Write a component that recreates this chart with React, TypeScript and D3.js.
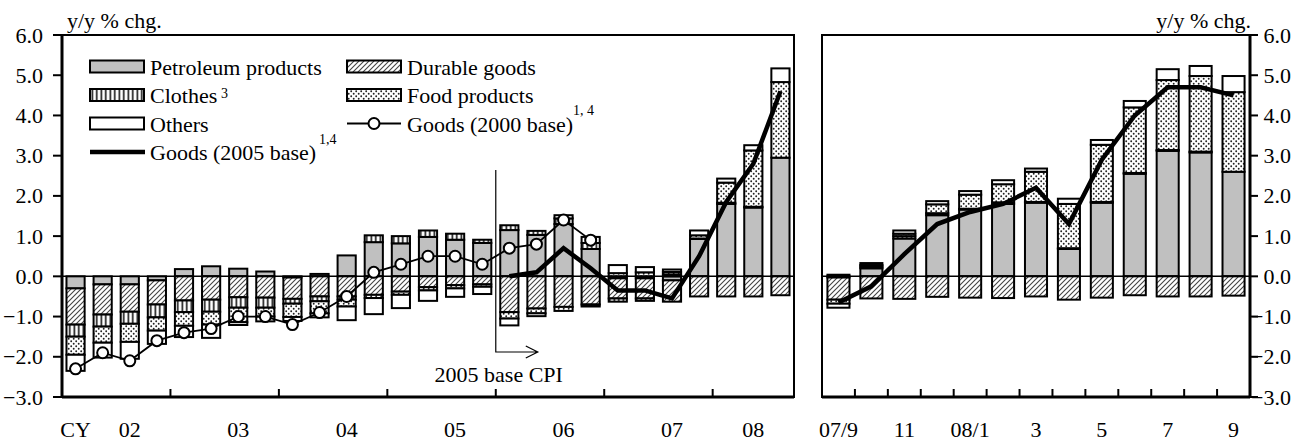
import * as d3 from "d3";
import { useEffect, useRef } from "react";

// quarterly, CY2002 Q1 .. 2008 Q3
const quarters = [
  "02Q1", "02Q2", "02Q3", "02Q4", "03Q1", "03Q2", "03Q3", "03Q4",
  "04Q1", "04Q2", "04Q3", "04Q4", "05Q1", "05Q2", "05Q3", "05Q4",
  "06Q1", "06Q2", "06Q3", "06Q4", "07Q1", "07Q2", "07Q3", "07Q4",
  "08Q1", "08Q2", "08Q3",
];
const qPetroleum = [-0.3, -0.2, -0.2, -0.1, 0.18, 0.25, 0.19, 0.12, -0.03, 0.06, 0.52, 0.85, 0.82, 0.98, 0.91, 0.83, 1.15, 1.03, 1.3, 0.68, -0.05, -0.05, -0.1, 0.93, 1.8, 1.71, 2.95];
const qDurable = [-0.9, -0.75, -0.68, -0.6, -0.6, -0.58, -0.52, -0.53, -0.53, -0.5, -0.5, -0.46, -0.38, -0.27, -0.22, -0.2, -0.89, -0.8, -0.76, -0.7, -0.5, -0.5, -0.53, -0.5, -0.5, -0.5, -0.47];
const qClothes = [-0.3, -0.3, -0.3, -0.32, -0.29, -0.3, -0.26, -0.25, -0.12, -0.12, -0.08, 0.17, 0.18, 0.16, 0.15, 0.08, 0.12, 0.1, 0.14, 0.15, -0.08, -0.06, 0.05, 0.01, 0.03, 0.02, 0.0];
const qFood = [-0.45, -0.4, -0.45, -0.33, -0.34, -0.32, -0.36, -0.22, -0.33, -0.3, -0.17, -0.08, -0.08, -0.08, -0.08, -0.06, -0.16, -0.12, -0.1, -0.05, 0.08, 0.1, 0.06, 0.08, 0.5, 1.4, 1.88];
const qOthers = [-0.4, -0.37, -0.42, -0.33, -0.28, -0.33, -0.07, -0.12, -0.1, -0.1, -0.34, -0.4, -0.33, -0.26, -0.21, -0.18, -0.17, -0.07, 0.08, 0.15, 0.2, 0.13, 0.06, 0.12, 0.1, 0.13, 0.34];
const qGoods2000 = [-2.3, -1.9, -2.1, -1.6, -1.4, -1.3, -1.0, -1.0, -1.2, -0.9, -0.5, 0.1, 0.3, 0.5, 0.5, 0.3, 0.7, 0.8, 1.4, 0.9, null, null, null, null, null, null, null];
const qGoods2005 = [null, null, null, null, null, null, null, null, null, null, null, null, null, null, null, null, 0.0, 0.1, 0.7, 0.2, -0.35, -0.35, -0.55, 0.5, 1.85, 2.8, 4.6];

// monthly, 2007/9 .. 2008/9
const months = ["07/9", "07/10", "07/11", "07/12", "08/1", "08/2", "08/3", "08/4", "08/5", "08/6", "08/7", "08/8", "08/9"];
const mPetroleum = [-0.03, 0.2, 0.94, 1.52, 1.66, 1.8, 1.83, 0.68, 1.83, 2.55, 3.12, 3.08, 2.6];
const mDurable = [-0.55, -0.55, -0.56, -0.51, -0.53, -0.54, -0.5, -0.58, -0.53, -0.47, -0.5, -0.5, -0.48];
const mClothes = [0.04, 0.04, 0.06, 0.05, 0.02, 0.04, 0.02, 0.02, 0.02, 0.02, 0.02, 0.02, 0.0];
const mFood = [-0.1, 0.04, 0.06, 0.22, 0.35, 0.45, 0.75, 1.1, 1.42, 1.63, 1.74, 1.88, 1.98];
const mOthers = [-0.1, 0.05, 0.08, 0.08, 0.09, 0.1, 0.08, 0.13, 0.12, 0.16, 0.27, 0.25, 0.4];
const mGoods2005 = [-0.65, -0.25, 0.55, 1.3, 1.6, 1.8, 2.2, 1.3, 2.9, 4.0, 4.7, 4.7, 4.5];

const yTicks = [-3, -2, -1, 0, 1, 2, 3, 4, 5, 6];
const leftLabels = ["CY", "02", "03", "04", "05", "06", "07", "08"];
const leftLabelAt = ["02Q1", "02Q3", "03Q3", "04Q3", "05Q3", "06Q3", "07Q3", "08Q2"];
const leftTicksAt = ["03Q1", "04Q1", "05Q1", "06Q1", "07Q1", "08Q1"];
const rightLabels = ["07/9", "11", "08/1", "3", "5", "7", "9"];
const rightLabelAt = ["07/9", "07/11", "08/1", "08/3", "08/5", "08/7", "08/9"];

const seriesKeys = ["petroleum", "durable", "clothes", "food", "others"];
const fills: Record<string, string> = {
  petroleum: "#c0c0c0",
  durable: "url(#hatch)",
  clothes: "url(#vlines)",
  food: "url(#dots)",
  others: "#ffffff",
};

const W = 1309;
const H = 441;
const FONT = "'Liberation Serif', 'Times New Roman', serif";
const FS = 22;

export default function App() {
  const ref = useRef<SVGSVGElement | null>(null);

  useEffect(() => {
    if (!ref.current) return;
    const svg = d3.select(ref.current);
    svg.selectAll("*").remove();

    const top = 35;
    const bottom = 397;
    const y = d3.scaleLinear().domain([-3, 6]).range([bottom, top]);

    // patterns
    const defs = svg.append("defs");
    const hatch = defs.append("pattern").attr("id", "hatch").attr("patternUnits", "userSpaceOnUse").attr("width", 5).attr("height", 5);
    hatch.append("rect").attr("width", 5).attr("height", 5).attr("fill", "#fff");
    hatch.append("path").attr("d", "M0,5 L5,0 M-1,1 L1,-1 M4,6 L6,4").attr("stroke", "#444").attr("stroke-width", 1.1);
    const vl = defs.append("pattern").attr("id", "vlines").attr("patternUnits", "userSpaceOnUse").attr("width", 4.5).attr("height", 4);
    vl.append("rect").attr("width", 4.5).attr("height", 4).attr("fill", "#fff");
    vl.append("rect").attr("x", 1.5).attr("width", 1.6).attr("height", 4).attr("fill", "#111");
    const dots = defs.append("pattern").attr("id", "dots").attr("patternUnits", "userSpaceOnUse").attr("width", 5).attr("height", 5);
    dots.append("rect").attr("width", 5).attr("height", 5).attr("fill", "#fff");
    dots.append("circle").attr("cx", 1.2).attr("cy", 1.2).attr("r", 0.95).attr("fill", "#222");
    dots.append("circle").attr("cx", 3.7).attr("cy", 3.7).attr("r", 0.95).attr("fill", "#222");

    const text = (g: any, x: number, yy: number, s: string, size = FS, anchor = "start") =>
      g.append("text").attr("x", x).attr("y", yy).attr("font-family", FONT).attr("font-size", size).attr("text-anchor", anchor).attr("fill", "#000").text(s);

    function panel(
      cats: string[],
      rows: Record<string, number>[],
      x0: number,
      x1: number,
      tickCats: string[],
      allTicks: boolean,
    ) {
      const x = d3.scaleBand<string>().domain(cats).range([x0, x1]).paddingInner(0.33).paddingOuter(0.165);
      const step = x.step();
      const g = svg.append("g");
      // frame
      g.append("rect").attr("x", x0).attr("y", top).attr("width", x1 - x0).attr("height", bottom - top).attr("fill", "none").attr("stroke", "#000").attr("stroke-width", 2);

      const stack = d3.stack<Record<string, number>>().keys(seriesKeys).offset(d3.stackOffsetDiverging);
      const layers = stack(rows);
      layers.forEach((layer) => {
        g.append("g")
          .selectAll("rect")
          .data(layer.map((d, i) => ({ d, i })).filter((e) => e.d[1] - e.d[0] !== 0))
          .join("rect")
          .attr("x", (e) => x(cats[e.i]) as number)
          .attr("width", x.bandwidth())
          .attr("y", (e) => y(Math.max(e.d[0], e.d[1])))
          .attr("height", (e) => Math.abs(y(e.d[0]) - y(e.d[1])))
          .attr("fill", fills[layer.key])
          .attr("stroke", "#000")
          .attr("stroke-width", 2);
      });

      // zero line
      g.append("line").attr("x1", x0).attr("x2", x1).attr("y1", y(0)).attr("y2", y(0)).attr("stroke", "#000").attr("stroke-width", 1.5);
      // bottom axis
      g.append("line").attr("x1", x0).attr("x2", x1).attr("y1", bottom).attr("y2", bottom).attr("stroke", "#000").attr("stroke-width", 3);
      const tickXs = (allTicks ? cats.slice(1) : tickCats).map((c) => (x(c) as number) - (step - x.bandwidth()) / 2);
      g.selectAll(".xt").data(tickXs).join("line").attr("x1", (d) => d).attr("x2", (d) => d).attr("y1", bottom).attr("y2", bottom - 8).attr("stroke", "#000").attr("stroke-width", 2);
      return { x, g };
    }

    const qRows = quarters.map((_, i) => ({
      petroleum: qPetroleum[i], durable: qDurable[i], clothes: qClothes[i], food: qFood[i], others: qOthers[i],
    }));
    const mRows = months.map((_, i) => ({
      petroleum: mPetroleum[i], durable: mDurable[i], clothes: mClothes[i], food: mFood[i], others: mOthers[i],
    }));

    const L = panel(quarters, qRows, 62, 794, leftTicksAt, false);
    const R = panel(months, mRows, 822, 1250, [], true);
    const cx = (s: d3.ScaleBand<string>, c: string) => (s(c) as number) + s.bandwidth() / 2;

    // left y axis
    L.g.append("line").attr("x1", 62).attr("x2", 62).attr("y1", top - 1).attr("y2", bottom + 1).attr("stroke", "#000").attr("stroke-width", 3);
    yTicks.forEach((t) => {
      L.g.append("line").attr("x1", 53).attr("x2", 62).attr("y1", y(t)).attr("y2", y(t)).attr("stroke", "#000").attr("stroke-width", 2);
      text(L.g, 43, y(t) + 7.5, d3.format(".1f")(t), FS, "end");
    });
    // right y axis
    R.g.append("line").attr("x1", 1250).attr("x2", 1250).attr("y1", top - 1).attr("y2", bottom + 1).attr("stroke", "#000").attr("stroke-width", 3);
    yTicks.forEach((t) => {
      R.g.append("line").attr("x1", 1250).attr("x2", 1258).attr("y1", y(t)).attr("y2", y(t)).attr("stroke", "#000").attr("stroke-width", 2);
      text(R.g, 1291, y(t) + 7.5, d3.format(".1f")(t), FS, "end");
    });
    text(svg, 67, 28, "y/y % chg.", FS, "start");
    text(svg, 1251, 28, "y/y % chg.", FS, "end");

    leftLabels.forEach((s, i) => text(svg, cx(L.x, leftLabelAt[i]), 437, s, FS, "middle"));
    rightLabels.forEach((s, i) => text(svg, cx(R.x, rightLabelAt[i]), 437, s, FS, "middle"));

    // goods 2000 base (thin line with circles)
    const q2000 = quarters.map((c, i) => ({ c, v: qGoods2000[i] })).filter((d) => d.v !== null) as { c: string; v: number }[];
    const thin = d3.line<{ c: string; v: number }>().x((d) => cx(L.x, d.c)).y((d) => y(d.v));
    svg.append("path").datum(q2000).attr("d", thin).attr("fill", "none").attr("stroke", "#000").attr("stroke-width", 1.8);
    svg.append("g").selectAll("circle").data(q2000).join("circle")
      .attr("cx", (d) => cx(L.x, d.c)).attr("cy", (d) => y(d.v)).attr("r", 5.5)
      .attr("fill", "#fff").attr("stroke", "#000").attr("stroke-width", 2);

    // goods 2005 base (thick line)
    const q2005 = quarters.map((c, i) => ({ c, v: qGoods2005[i] })).filter((d) => d.v !== null) as { c: string; v: number }[];
    svg.append("path").datum(q2005).attr("d", thin).attr("fill", "none").attr("stroke", "#000").attr("stroke-width", 4.5);
    const m2005 = months.map((c, i) => ({ c, v: mGoods2005[i] }));
    const thickR = d3.line<{ c: string; v: number }>().x((d) => cx(R.x, d.c)).y((d) => y(d.v));
    svg.append("path").datum(m2005).attr("d", thickR).attr("fill", "none").attr("stroke", "#000").attr("stroke-width", 4.5);

    // 2005 base CPI marker
    const bx = (L.x("06Q1") as number) - (L.x.step() - L.x.bandwidth()) / 2;
    svg.append("path").attr("d", `M${bx},170 V352 H${bx + 42} M${bx + 30},346 L${bx + 42},352 L${bx + 30},358`).attr("fill", "none").attr("stroke", "#000").attr("stroke-width", 1.2);
    text(svg, bx + 3, 382, "2005 base CPI", FS, "middle");

    // legend
    const lg = svg.append("g");
    const rowsY = [66.5, 95, 123.5, 152];
    const sw = (xx: number, yy: number, key: string) =>
      lg.append("rect").attr("x", xx).attr("y", yy - 6).attr("width", 54).attr("height", 12).attr("fill", fills[key]).attr("stroke", "#000").attr("stroke-width", 2);
    sw(90, rowsY[0], "petroleum");
    text(lg, 150, rowsY[0] + 8, "Petroleum products");
    sw(347, rowsY[0], "durable");
    text(lg, 407, rowsY[0] + 8, "Durable goods");
    sw(90, rowsY[1], "clothes");
    text(lg, 150, rowsY[1] + 8, "Clothes");
    text(lg, 221, rowsY[1] + 3, "3", 14);
    sw(347, rowsY[1], "food");
    text(lg, 407, rowsY[1] + 8, "Food products");
    sw(90, rowsY[2], "others");
    text(lg, 150, rowsY[2] + 8, "Others");
    lg.append("line").attr("x1", 347).attr("x2", 401).attr("y1", rowsY[2]).attr("y2", rowsY[2]).attr("stroke", "#000").attr("stroke-width", 1.8);
    lg.append("circle").attr("cx", 374).attr("cy", rowsY[2]).attr("r", 5.5).attr("fill", "#fff").attr("stroke", "#000").attr("stroke-width", 2);
    text(lg, 407, rowsY[2] + 8, "Goods (2000 base)");
    text(lg, 573, rowsY[2] - 9, "1, 4", 14);
    lg.append("line").attr("x1", 90).attr("x2", 145).attr("y1", rowsY[3]).attr("y2", rowsY[3]).attr("stroke", "#000").attr("stroke-width", 4.5);
    text(lg, 150, rowsY[3] + 8, "Goods (2005 base)");
    text(lg, 319, rowsY[3] - 8, "1,4", 14);
  }, []);

  return (
    <svg
      ref={ref}
      width={W}
      height={H}
      style={{ position: "absolute", left: 0, top: 0, background: "#fff" }}
    />
  );
}
